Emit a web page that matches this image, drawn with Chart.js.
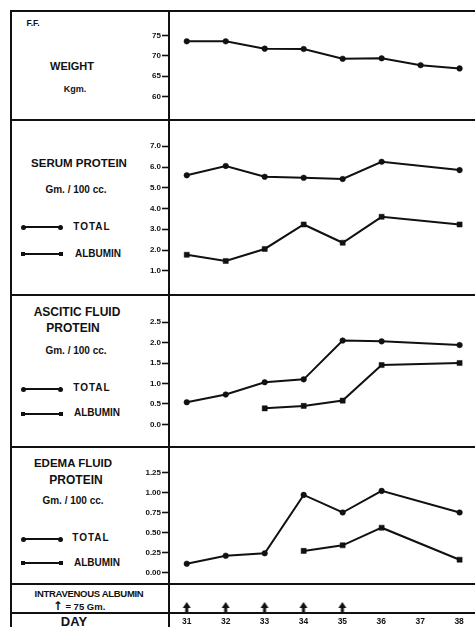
<!DOCTYPE html>
<html>
<head>
<meta charset="utf-8">
<script src="https://cdn.jsdelivr.net/npm/chart.js@4.4.1/dist/chart.umd.min.js"></script>
<style>
html, body { margin: 0; padding: 0; background: #fff; }
body { width: 475px; height: 627px; position: relative; overflow: hidden;
       font-family: "Liberation Sans", Arial, sans-serif; font-weight: bold; color: #111; }
.hl { position: absolute; left: 11px; width: 464px; height: 2px; background: #111; z-index: 2; }
.vl { position: absolute; top: 10px; width: 2px; height: 617px; background: #111; z-index: 2; }
.t { position: absolute; white-space: nowrap; transform: translate(-50%, -50%); line-height: 1; }
canvas { position: absolute; left: 120px; }
.lg { position: absolute; left: 23px; width: 37px; height: 0; border-top: 2px solid #111; }
.lg::before, .lg::after { content: ""; position: absolute; top: -3.5px; width: 5px; height: 5px; background: #111; }
.lg::before { left: -2.5px; }
.lg::after { right: -2.5px; }
.lg.tot::before, .lg.tot::after { border-radius: 50%; }
.lg.alb::before, .lg.alb::after { width: 4px; height: 4px; top: -3px; }
.arw { font-size: 12px; font-family: "DejaVu Sans", sans-serif; font-weight: bold; }
</style>
</head>
<body>
<div class="hl" style="top:10px"></div>
<div class="hl" style="top:119px"></div>
<div class="hl" style="top:294px"></div>
<div class="hl" style="top:446px"></div>
<div class="hl" style="top:583px"></div>
<div class="hl" style="top:612px"></div>
<div class="vl" style="left:10px"></div>
<div class="vl" style="left:168px"></div>

<div class="t" style="left:33px;top:23px;font-size:8.5px">F.F.</div>
<div class="t" style="left:72px;top:66px;font-size:11px">WEIGHT</div>
<div class="t" style="left:75px;top:89px;font-size:9px">Kgm.</div>

<div class="t" style="left:79px;top:164px;font-size:11.5px">SERUM PROTEIN</div>
<div class="t" style="left:76px;top:190px;font-size:10px">Gm. / 100 cc.</div>
<div class="lg tot" style="top:226px"></div>
<div class="t" style="left:92px;top:227px;font-size:10px;letter-spacing:1px">TOTAL</div>
<div class="lg alb" style="top:253px"></div>
<div class="t" style="left:98px;top:254px;font-size:10px">ALBUMIN</div>

<div class="t" style="left:77px;top:312px;font-size:12px">ASCITIC FLUID</div>
<div class="t" style="left:73px;top:328px;font-size:12px">PROTEIN</div>
<div class="t" style="left:76px;top:351px;font-size:10px">Gm. / 100 cc.</div>
<div class="lg tot" style="top:388px"></div>
<div class="t" style="left:92px;top:388px;font-size:10px;letter-spacing:1px">TOTAL</div>
<div class="lg alb" style="top:413px"></div>
<div class="t" style="left:97px;top:413px;font-size:10px">ALBUMIN</div>

<div class="t" style="left:73px;top:464px;font-size:11.5px">EDEMA FLUID</div>
<div class="t" style="left:76px;top:480px;font-size:12px">PROTEIN</div>
<div class="t" style="left:73px;top:501px;font-size:10px">Gm. / 100 cc.</div>
<div class="lg tot" style="top:538px"></div>
<div class="t" style="left:91px;top:538px;font-size:10px;letter-spacing:1px">TOTAL</div>
<div class="lg alb" style="top:562px"></div>
<div class="t" style="left:97px;top:563px;font-size:10px">ALBUMIN</div>

<div class="t" style="left:89px;top:594px;font-size:9.5px;letter-spacing:-0.3px">INTRAVENOUS ALBUMIN</div>
<div class="t" style="left:79px;top:606px;font-size:9.5px"><span class="arw">&#8593;</span> = 75 Gm.</div>
<div class="t" style="left:74px;top:621px;font-size:13px">DAY</div>

<canvas id="weight" width="355" height="110" style="top:11px"></canvas>
<canvas id="serum" width="355" height="175" style="top:121px"></canvas>
<canvas id="ascitic" width="355" height="152" style="top:296px"></canvas>
<canvas id="edema" width="355" height="137" style="top:448px"></canvas>
<canvas id="days" width="355" height="42" style="top:585px"></canvas>

<script>
// dados
const days = [31, 32, 33, 34, 35, 36, 37, 38];
const dayLabels = ['31', '32', '33', '34', '35', '36', '37', '38'];

const weightKg = [73.6, 73.6, 71.8, 71.7, 69.3, 69.4, 67.7, 66.9];
const weightTicks = [60, 65, 70, 75];
const weightTickLabels = ['60', '65', '70', '75'];

const serumTotal = [5.6, 6.05, 5.53, 5.48, 5.42, 6.25, null, 5.85];
const serumAlbumin = [1.77, 1.47, 2.05, 3.23, 2.35, 3.6, null, 3.23];
const serumTicks = [1, 2, 3, 4, 5, 6, 7];
const serumTickLabels = ['1.0', '2.0', '3.0', '4.0', '5.0', '6.0', '7.0'];

const asciticTotal = [0.54, 0.73, 1.03, 1.1, 2.05, 2.03, null, 1.94];
const asciticAlbumin = [null, null, 0.39, 0.45, 0.58, 1.45, null, 1.5];
const asciticTicks = [0, 0.5, 1, 1.5, 2, 2.5];
const asciticTickLabels = ['0.0', '0.5', '1.0', '1.5', '2.0', '2.5'];

const edemaTotal = [0.11, 0.21, 0.24, 0.97, 0.75, 1.02, null, 0.75];
const edemaAlbumin = [null, null, null, 0.27, 0.34, 0.56, null, 0.16];
const edemaTicks = [0, 0.25, 0.5, 0.75, 1, 1.25];
const edemaTickLabels = ['0.00', '0.25', '0.50', '0.75', '1.00', '1.25'];

// 1 = albumina intravenosa (75 Gm.) dada nesse dia
const albuminGiven = [1, 1, 1, 1, 1, 0, 0, 0];

const INK = '#111';
const FONT = '"Liberation Sans", Arial, sans-serif';
const X_MIN = 30.57, X_MAX = 38.28;

function series(vals, style) {
    return {
        data: days.map((d, i) => ({ x: d, y: vals[i] })).filter(p => p.y !== null),
        borderColor: INK,
        borderWidth: 2,
        pointStyle: style,
        pointRadius: style === 'circle' ? 2.8 : 3.6,
        pointBackgroundColor: INK,
        pointBorderColor: INK,
        pointBorderWidth: 0.5,
        spanGaps: true,
        tension: 0
    };
}

function panel(id, datasets, yMin, yMax, ticks, labels) {
    new Chart(document.getElementById(id), {
        type: 'line',
        data: { datasets: datasets },
        options: {
            responsive: false,
            animation: false,
            layout: { padding: 0 },
            plugins: { legend: { display: false }, tooltip: { enabled: false } },
            scales: {
                x: { type: 'linear', min: X_MIN, max: X_MAX, display: false },
                y: {
                    min: yMin, max: yMax,
                    afterBuildTicks: s => { s.ticks = ticks.map(v => ({ value: v })); },
                    afterFit: s => { s.width = 50; s.paddingTop = 0; s.paddingBottom = 0; },
                    border: { display: false },
                    grid: { drawOnChartArea: false, drawTicks: true, tickLength: 8, tickWidth: 1.6, tickColor: INK },
                    ticks: {
                        color: INK, padding: 1, autoSkip: false,
                        font: { family: FONT, size: 8, weight: 'bold' },
                        callback: (v, i) => labels[i]
                    }
                }
            }
        }
    });
}

panel('weight', [series(weightKg, 'circle')], 55, 80, weightTicks, weightTickLabels);
panel('serum', [series(serumTotal, 'circle'), series(serumAlbumin, 'rect')], 0, 8, serumTicks, serumTickLabels);
panel('ascitic', [series(asciticTotal, 'circle'), series(asciticAlbumin, 'rect')], -0.47, 3.03, asciticTicks, asciticTickLabels);
panel('edema', [series(edemaTotal, 'circle'), series(edemaAlbumin, 'rect')], -0.1, 1.5, edemaTicks, edemaTickLabels);

// seta desenhada para os dias com albumina
const arrow = document.createElement('canvas');
arrow.width = 10; arrow.height = 26;
const a = arrow.getContext('2d');
a.fillStyle = INK;
a.beginPath();
a.moveTo(5, 13); a.lineTo(9, 19); a.lineTo(1, 19); a.closePath();
a.fill();
a.fillRect(3.5, 18, 3, 7.5);

new Chart(document.getElementById('days'), {
    type: 'scatter',
    data: {
        datasets: [{
            data: days.map((d, i) => ({ x: d, y: albuminGiven[i] ? 0 : null })).filter(p => p.y !== null),
            pointStyle: arrow,
            showLine: false
        }]
    },
    options: {
        responsive: false,
        animation: false,
        layout: { padding: 0 },
        plugins: { legend: { display: false }, tooltip: { enabled: false } },
        scales: {
            x: {
                type: 'linear', min: X_MIN, max: X_MAX,
                afterBuildTicks: s => { s.ticks = days.map(v => ({ value: v })); },
                afterFit: s => { s.height = 13; s.paddingLeft = 0; s.paddingRight = 0; },
                border: { display: false },
                grid: { display: false, drawTicks: false },
                ticks: {
                    color: INK, padding: 3, autoSkip: false, maxRotation: 0,
                    font: { family: FONT, size: 8.5, weight: 'bold' },
                    callback: (v, i) => dayLabels[i]
                }
            },
            y: {
                min: -1, max: 1,
                afterFit: s => { s.width = 50; s.paddingTop = 0; s.paddingBottom = 0; },
                border: { display: false },
                grid: { display: false },
                ticks: { display: false }
            }
        }
    }
});
</script>
</body>
</html>
